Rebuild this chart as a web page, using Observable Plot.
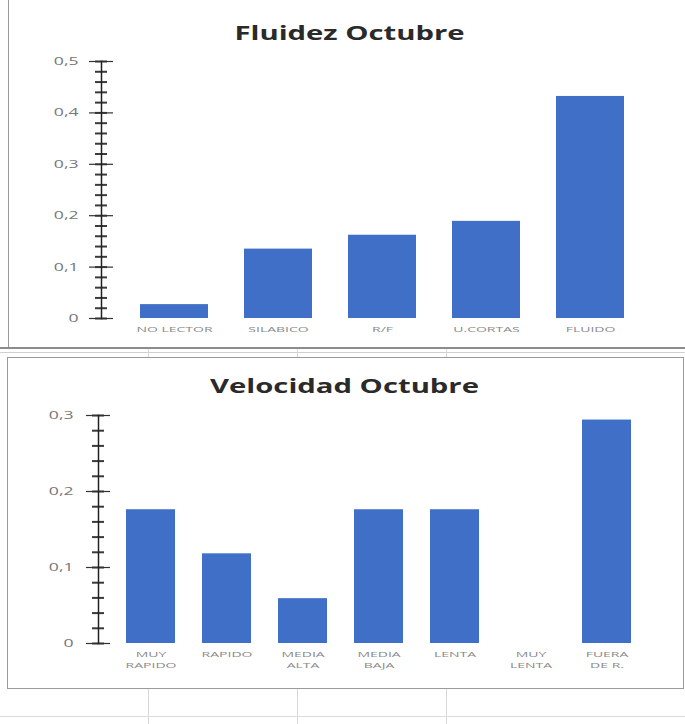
<!DOCTYPE html>
<html><head><meta charset="utf-8">
<script src="https://cdn.jsdelivr.net/npm/d3@7"></script>
<script src="https://cdn.jsdelivr.net/npm/@observablehq/plot@0.6"></script>
<style>
body{margin:0;background:#fff;font-family:"Open Sans",Roboto,sans-serif;}
#root{position:relative;width:685px;height:724px;overflow:hidden;background:#fff;}
.abs{position:absolute;}
.title{position:absolute;width:685px;text-align:center;font-weight:700;color:#2a2a2a;font-family:"Open Sans",sans-serif;transform:scaleX(1.5);transform-origin:50% 50%;}
</style>
</head><body>
<div id="root"></div>
<script>
// ---- data ----
const fluidezCategories = ["NO LECTOR", "SILABICO", "R/F", "U.CORTAS", "FLUIDO"];
const fluidezLabels = ["NO LECTOR", "SILABICO", "R/F", "U.CORTAS", "FLUIDO"];
const fluidezValues = [0.027, 0.135, 0.162, 0.189, 0.432];
const fluidezMajorTicks = [0, 0.1, 0.2, 0.3, 0.4, 0.5];
const fluidezMinorStep = 0.02;

const velocidadCategories = ["MUY RAPIDO", "RAPIDO", "MEDIA ALTA", "MEDIA BAJA", "LENTA", "MUY LENTA", "FUERA DE R."];
const velocidadLabels = ["MUY\nRAPIDO", "RAPIDO", "MEDIA\nALTA", "MEDIA\nBAJA", "LENTA", "MUY\nLENTA", "FUERA\nDE R."];
const velocidadValues = [0.176, 0.118, 0.059, 0.176, 0.176, 0, 0.294];
const velocidadMajorTicks = [0, 0.1, 0.2, 0.3];
const velocidadMinorStep = 0.02;

const barColor = "#3f6fc6";
const root = document.getElementById("root");

function add(el, css) { Object.assign(el.style, css); root.appendChild(el); return el; }
function line(x, y, w, h, color) {
  const d = document.createElement("div");
  d.className = "abs";
  add(d, {left: x + "px", top: y + "px", width: w + "px", height: h + "px", background: color});
}

// spreadsheet-like background lines / panel borders
line(8, 0, 1, 347, "#9a9a9a");
line(0, 347, 685, 2, "#8c8c8c");
line(0, 352, 685, 1, "#d0d0d0");
[148, 297, 446].forEach(x => { line(x, 349, 1, 8, "#d8d8d8"); line(x, 688, 1, 36, "#d8d8d8"); });
const box = document.createElement("div");
box.className = "abs";
add(box, {left: "7px", top: "357px", width: "675px", height: "330px", border: "1px solid #9a9a9a"});
line(0, 716, 685, 1, "#dcdcdc");

function stretch(svg, label, s) {
  svg.querySelectorAll(`g[aria-label="${label}"] text`).forEach(t => {
    const tr = t.getAttribute("transform") || "";
    t.setAttribute("transform", tr + ` scale(${s},1)`);
  });
}

function chart({categories, labels, values, major, minorStep, max, top, height, marginTop, marginBottom, marginLeft, marginRight, paddingOuter, labelPad}) {
  const labelOf = new Map(categories.map((c, i) => [c, labels[i]]));
  const minor = d3.range(0, Math.round(max / minorStep) + 1).map(i => +(i * minorStep).toFixed(4));
  const data = categories.map((c, i) => ({c, v: values[i]}));
  const svg = Plot.plot({
    width: 685, height, marginTop, marginBottom, marginLeft, marginRight,
    style: {background: "transparent", fontFamily: "'Open Sans', Roboto, sans-serif", overflow: "visible"},
    x: {domain: categories, paddingInner: 0.35, paddingOuter, label: null},
    y: {domain: [0, max], label: null},
    marks: [
      Plot.barY(data, {x: "c", y: "v", fill: barColor}),
      Plot.axisX({tickSize: 0, tickPadding: 6, fontSize: 8, fill: "#8a8a8a", lineHeight: 1.35, tickFormat: d => labelOf.get(d)}),
      Plot.axisY({ticks: minor, tickSize: 12, dx: 6, strokeWidth: 2, tickFormat: () => "", stroke: "#3a3a3a", label: null}),
      Plot.axisY({ticks: major, tickSize: 24, dx: 12, strokeWidth: 1.2, tickFormat: () => "", stroke: "#333", label: null}),
      Plot.axisY({ticks: major, tickSize: 0, tickPadding: labelPad, fontSize: 11, fill: "#777", label: null, tickFormat: d => String(d).replace(".", ",")}),
      Plot.frame({anchor: "left", stroke: "#222", strokeWidth: 1.5})
    ]
  });
  stretch(svg, "x-axis tick label", 1.75);
  stretch(svg, "y-axis tick label", 1.6);
  const wrap = document.createElement("div");
  wrap.className = "abs";
  add(wrap, {left: "0px", top: top + "px"});
  wrap.appendChild(svg);
}

const t1 = document.createElement("div");
t1.className = "title"; t1.textContent = "Fluidez Octubre";
add(t1, {left: "7px", top: "19px", fontSize: "19.5px"});
chart({categories: fluidezCategories, labels: fluidezLabels, values: fluidezValues, major: fluidezMajorTicks,
  minorStep: fluidezMinorStep, max: 0.5, top: 0, height: 345, marginTop: 61, marginBottom: 27,
  marginLeft: 101, marginRight: 22, paddingOuter: 0.375, labelPad: 23});

const t2 = document.createElement("div");
t2.className = "title"; t2.textContent = "Velocidad Octubre";
add(t2, {left: "2px", top: "372px", fontSize: "19.5px"});
chart({categories: velocidadCategories, labels: velocidadLabels, values: velocidadValues, major: velocidadMajorTicks,
  minorStep: velocidadMinorStep, max: 0.3, top: 357, height: 330, marginTop: 58, marginBottom: 44,
  marginLeft: 98, marginRight: 25, paddingOuter: 0.35, labelPad: 25});
</script>
</body></html>
